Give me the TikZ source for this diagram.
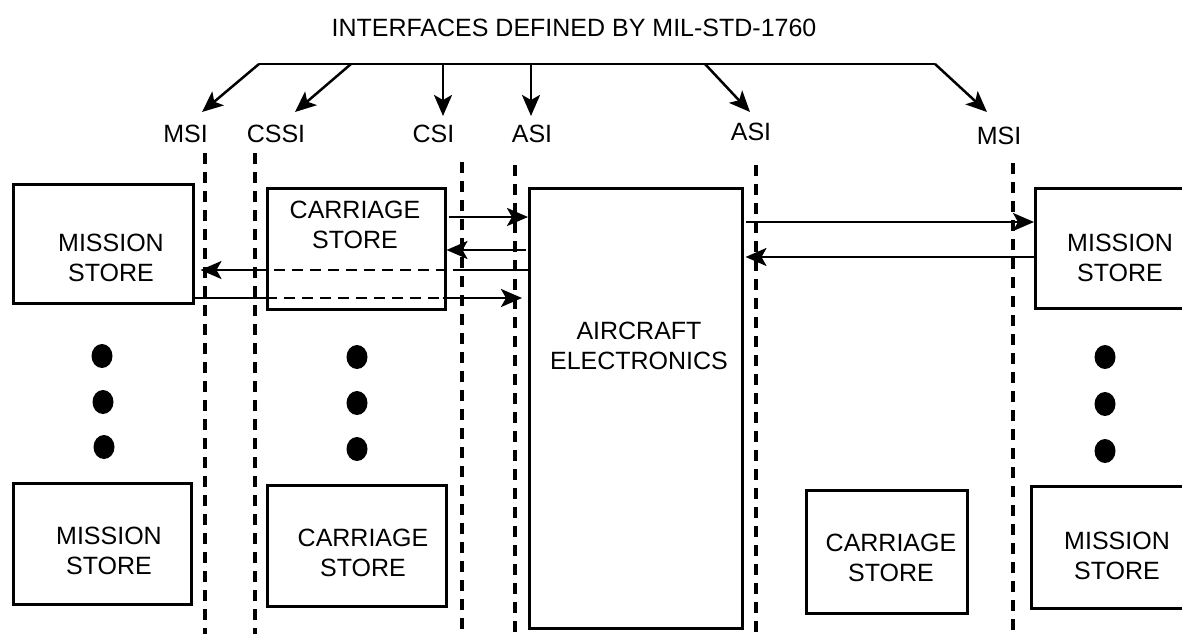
\documentclass[tikz,border=0pt]{standalone}
\usepackage{fontspec}
\setmainfont{Liberation Sans}
\usetikzlibrary{arrows.meta}
\begin{document}
\begin{tikzpicture}[x=1pt,y=-1pt,
  box/.style={draw, line width=2.5pt, inner sep=0pt, anchor=north west},
  txt/.style={align=center, inner sep=0pt, font=\fontsize{25}{30}\selectfont},
  lbl/.style={inner sep=0pt, font=\fontsize{25}{30}\selectfont},
  ln/.style={line width=2.5pt},
  arr/.style={line width=2.5pt, -{Stealth[length=21pt,width=18pt,inset=5pt]}},
  dsh/.style={line width=3.2pt, dash pattern=on 11pt off 8pt},
  dshin/.style={line width=2.5pt, dash pattern=on 11pt off 7pt},
  dot/.style={fill=black}]
\useasboundingbox (0,0) rectangle (1182,643);
\clip (0,0) rectangle (1182,643);
\fill[white] (0,0) rectangle (1182,643);

% title and labels
\node[lbl] (title) at (574,28) {INTERFACES DEFINED BY MIL-STD-1760};
\node[lbl] (lmsi1) at (185.5,134) {MSI};
\node[lbl] (lcssi) at (276,134) {CSSI};
\node[lbl] (lcsi) at (433.5,134) {CSI};
\node[lbl] (lasi1) at (532,134) {ASI};
\node[lbl] (lasi2) at (751,132) {ASI};
\node[lbl] (lmsi2) at (999,136) {MSI};

% bracket
\coordinate (b0) at (259,64);
\coordinate (b1) at (351,64);
\coordinate (b2) at (443,64);
\coordinate (b3) at (531,64);
\coordinate (b4) at (705,64);
\coordinate (b5) at (935,64);
\coordinate (p0) at (202,112);
\coordinate (p1) at (295,112);
\coordinate (p2) at (443,116);
\coordinate (p3) at (531,116);
\coordinate (p4) at (750,112);
\coordinate (p5) at (987,112);
\draw[ln] (b0) -- (b5);
\draw[arr] (b0) -- (p0);
\draw[arr] (b1) -- (p1);
\draw[arr] (b2) -- (p2);
\draw[arr] (b3) -- (p3);
\draw[arr] (b4) -- (p4);
\draw[arr] (b5) -- (p5);

% dashed interface lines
\foreach \x/\t in {205/153, 255/153, 462/162, 515/165, 756/165, 1013/163}{
  \draw[dsh] (\x,\t) -- (\x,634);
}

% boxes
\node[box, minimum width=180pt, minimum height=119pt] (ms1) at (12,183) {};
\node[box, minimum width=178pt, minimum height=121pt] (cs1) at (266,187) {};
\node[box, minimum width=213pt, minimum height=440pt] (ae) at (528,187) {};
\node[box, minimum width=180pt, minimum height=120pt] (ms2) at (1034,187) {};
\node[box, minimum width=178pt, minimum height=121pt] (ms3) at (12,482) {};
\node[box, minimum width=179pt, minimum height=121pt] (cs2) at (266,484) {};
\node[box, minimum width=161pt, minimum height=123pt] (cs3) at (805,489) {};
\node[box, minimum width=180pt, minimum height=122pt] (ms4) at (1030,485) {};

% box texts
\node[txt] (t1) at (111,257.5) {MISSION\\STORE};
\node[txt] (t2) at (355,224.5) {CARRIAGE\\STORE};
\node[txt] (t3) at (639,346) {AIRCRAFT\\ELECTRONICS};
\node[txt] (t4) at (1120,258) {MISSION\\STORE};
\node[txt] (t5) at (109,551) {MISSION\\STORE};
\node[txt] (t6) at (363,553) {CARRIAGE\\STORE};
\node[txt] (t7) at (891,558) {CARRIAGE\\STORE};
\node[txt] (t8) at (1117,556) {MISSION\\STORE};

% connectors left side
\draw[arr, shorten <=2pt] (cs1.east |- 0,217) -- (ae.west |- 0,217);
\draw[arr, shorten <=2pt] (ae.west |- 0,250) -- (cs1.east |- 0,250);
\draw[ln, shorten >=6pt] (ae.west |- 0,270) -- (cs1.east |- 0,270);
\draw[dshin] (cs1.east |- 0,270) -- (cs1.west |- 0,270);
\draw[arr, shorten >=6pt] (cs1.west |- 0,270) -- (ms1.east |- 0,270);
\draw[ln] (ms1.east |- 0,298) -- (cs1.west |- 0,298);
\draw[dshin] (cs1.west |- 0,298) -- ([xshift=-4pt]cs1.east |- 0,298);
\draw[arr, shorten >=6pt] ([xshift=-4pt]cs1.east |- 0,298) -- (ae.west |- 0,298);

% connectors right side
\draw[arr, shorten <=2pt] (ae.east |- 0,222) -- (ms2.west |- 0,222);
\draw[arr, shorten >=2pt] (ms2.west |- 0,257) -- (ae.east |- 0,257);

% dots
\foreach \x/\y in {102/356, 103/402, 104/447, 357/357, 357/403, 357/449, 1105/357, 1105/404, 1105/451}{
  \fill[dot] (\x,\y) ellipse [x radius=10.5pt, y radius=12pt];
}
\end{tikzpicture}
\end{document}
